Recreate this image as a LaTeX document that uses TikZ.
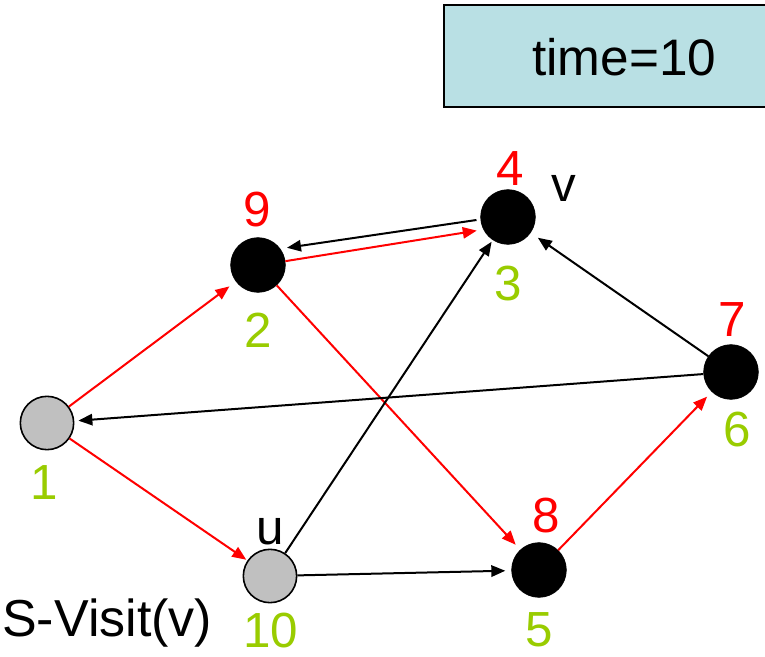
\documentclass[tikz,border=0pt]{standalone}
\usepackage{fontspec}
\setmainfont{Liberation Sans}
\usetikzlibrary{arrows.meta}
\definecolor{lblgreen}{RGB}{153,204,0}
\definecolor{boxfill}{RGB}{185,224,228}
\definecolor{vgray}{RGB}{192,192,192}
\tikzset{
  blackv/.style={circle, fill=black, draw=black, line width=0.5pt, minimum size=41pt, inner sep=0pt},
  grayv/.style={circle, fill=vgray, draw=black, line width=1.2pt, minimum size=40pt, inner sep=0pt},
  lbl/.style={font=\fontsize{37}{40}\selectfont, inner sep=0pt},
  redl/.style={lbl, text=red},
  grnl/.style={lbl, text=lblgreen},
  blkl/.style={lbl, text=black},
  edge/.style={line width=1.5pt, -{Triangle[length=10.5pt,width=8.5pt]}},
  redge/.style={edge, draw=red},
  bedge/.style={edge, draw=black},
}
\begin{document}
\begin{tikzpicture}[x=0.75pt,y=-0.75pt]
\clip (0,0) rectangle (765,657);
\fill[white] (0,0) rectangle (765,657);
% time box
\node[draw=black, line width=1.2pt, fill=boxfill, minimum width=330*0.75pt, minimum height=102*0.75pt, anchor=north west, inner sep=0pt] (tbox) at (443,4) {};
\node[lbl, anchor=base west, font=\fontsize{38.5}{42}\selectfont] (ttext) at (532,75) {time=10};
% vertices
\node[grayv]  (n1) at (47,423) {};
\node[blackv] (n2) at (258,265) {};
\node[blackv] (n3) at (508,217) {};
\node[grayv]  (n4) at (270,576) {};
\node[blackv] (n5) at (539,570) {};
\node[blackv] (n6) at (731,372) {};
% labels
\node[redl] (l2a) at (257,210) {9};
\node[grnl] (l2b) at (258,330) {2};
\node[redl] (l3a) at (510,169) {4};
\node[blkl] (l3v) at (564,188) {v};
\node[grnl] (l3b) at (508,284) {3};
\node[redl] (l6a) at (732,320) {7};
\node[grnl] (l6b) at (737,430) {6};
\node[redl] (l5a) at (546,516) {8};
\node[grnl] (l5b) at (539,630) {5};
\node[grnl] (l1b) at (44,483) {1};
\node[blkl] (l4u) at (270,532) {u};
\node[grnl] (l4b) at (271,631) {10};
\node[lbl, anchor=base west, font=\fontsize{39}{42}\selectfont] (sv) at (2,636) {S-Visit(v)};
% edges
\draw[redge, shorten >=6pt] (n1) -- (n2);
\draw[redge, shorten >=1pt] (n1) -- (n4);
\draw[redge, shorten >=5pt] (n2.8) -- (n3.207);
\draw[bedge, shorten >=5pt, shorten <=3pt] (n3.185) -- (n2.36);
\draw[redge, shorten >=5pt] (n2) -- (n5);
\draw[bedge, shorten >=1.5pt] (n4) -- (n3);
\draw[bedge, shorten >=4.5pt] (n4) -- (n5);
\draw[redge, shorten >=5pt] (n5) -- (n6);
\draw[bedge, shorten >=6.5pt] (n6) -- (n3);
\draw[bedge, shorten >=3pt] (n6) -- (n1);
\end{tikzpicture}
\end{document}
